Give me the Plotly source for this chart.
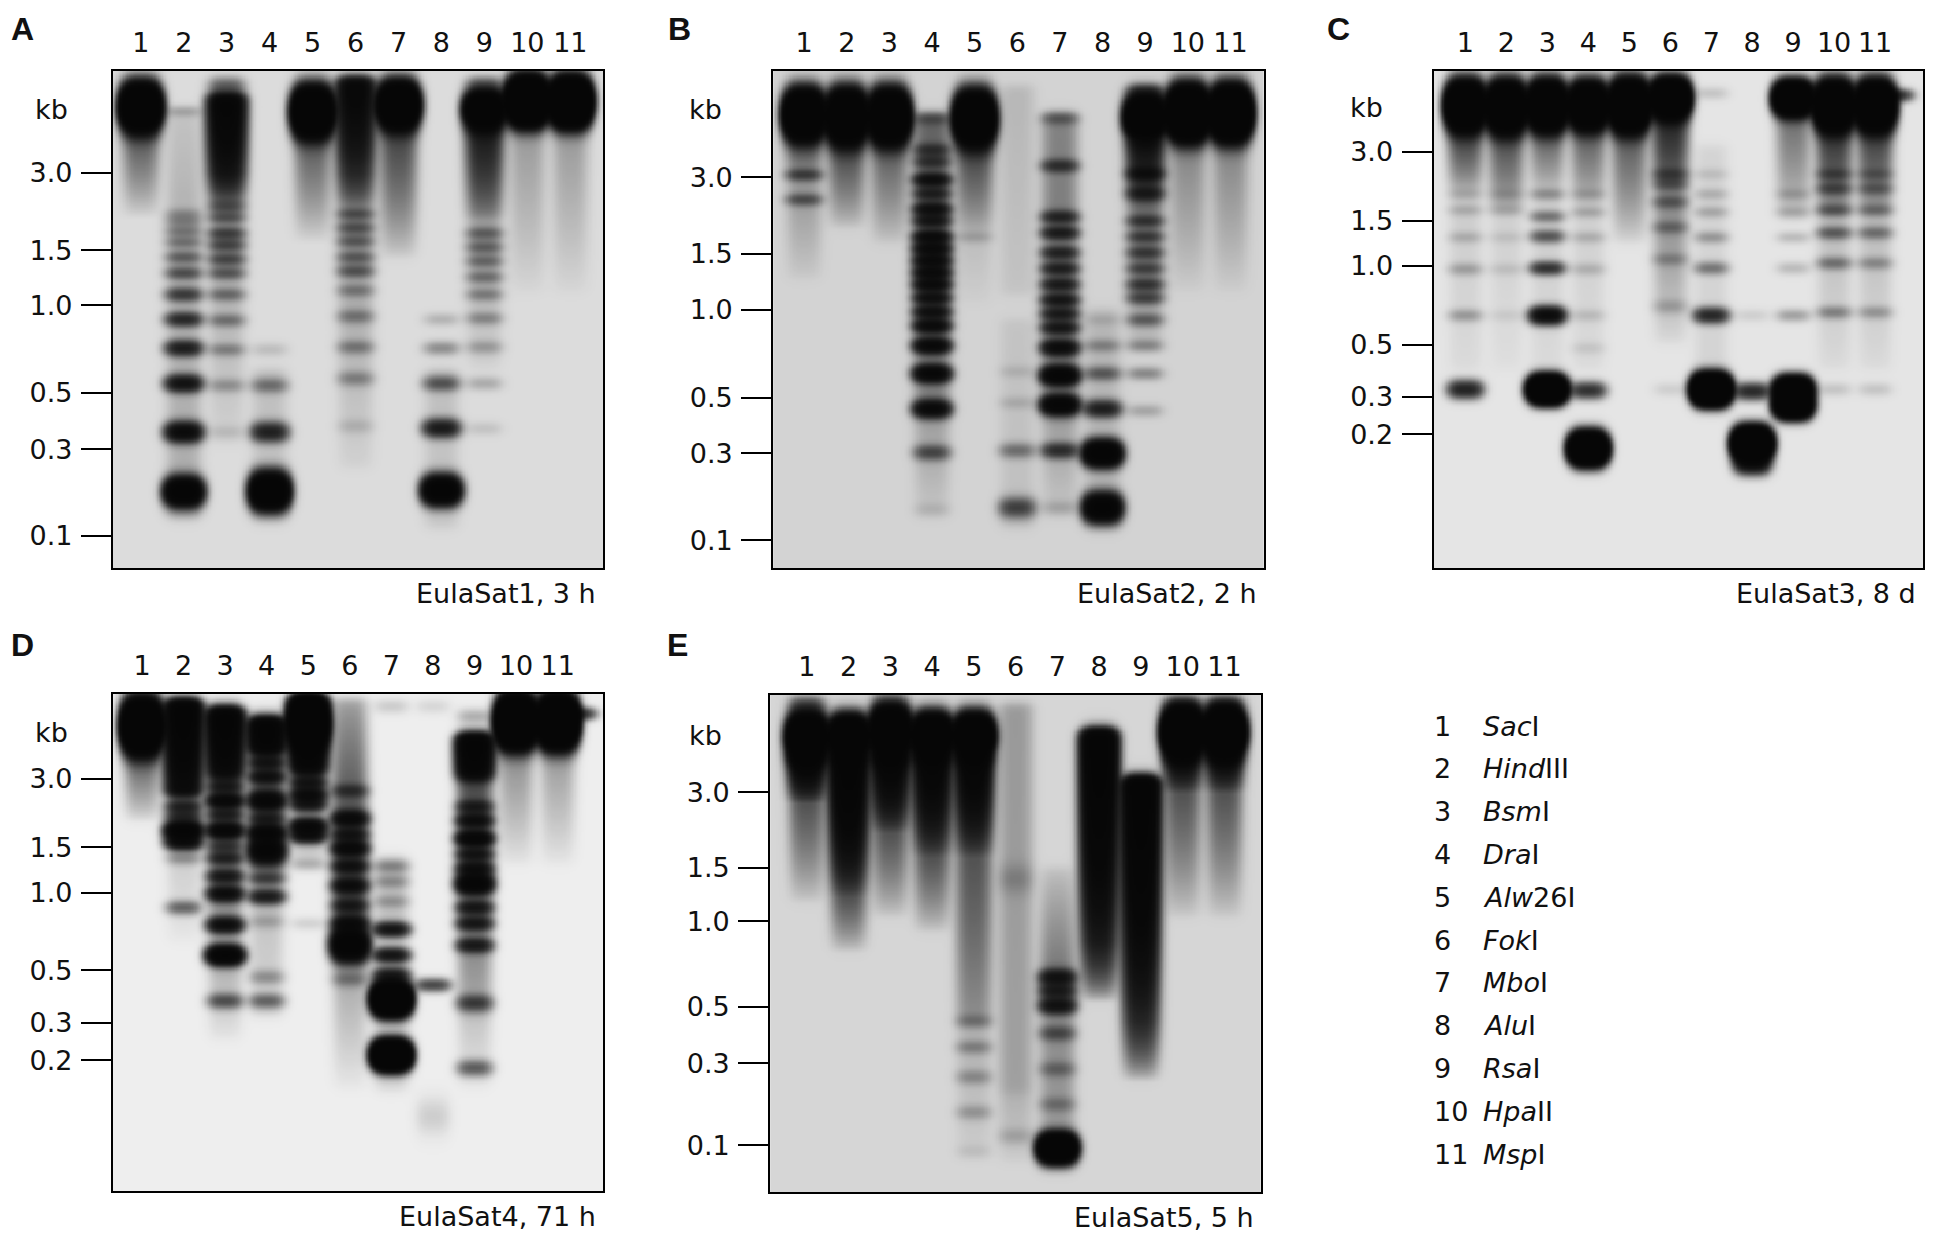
import numpy as np
import plotly.graph_objects as go

# the page body keeps its default 8 px margin, so the figure is drawn that much smaller
PAGE_W, PAGE_H = 1933, 1242
OFF = 8
W, H = PAGE_W - 2 * OFF, PAGE_H - 2 * OFF
FONT = 'DejaVu Sans'
INK = '#111111'

LANES = list(range(1, 12))

# restriction enzymes, lane key
ENZYME_NO = ['1', '2', '3', '4', '5', '6', '7', '8', '9', '10', '11']
ENZYME_ITALIC = ['Sac', 'Hind', 'Bsm', 'Dra', 'Alw', 'Fok', 'Mbo', 'Alu', 'Rsa', 'Hpa', 'Msp']
ENZYME_REST = ['I', 'III', 'I', 'I', '26I', 'I', 'I', 'I', 'I', 'II', 'I']

# bands: (lane, migration % of gel, signal, spread %)
# smears: (lane, from %, to %, signal at start, signal at end)

A_TITLE = 'EulaSat1, 3 h'
A_TICK_KB = ['3.0', '1.5', '1.0', '0.5', '0.3', '0.1']
A_TICK_POS = [20.5, 36.1, 47.1, 64.7, 76.1, 93.5]
A_BANDS = [
    (1, 7.3, 20, 2.5),
    (2, 8.1, 0.25, 0.4),
    (2, 28.8, 0.3, 0.5), (2, 30.3, 0.35, 0.5), (2, 32.3, 0.45, 0.5), (2, 34.5, 0.5, 0.5),
    (2, 37.5, 0.7, 0.6), (2, 40.7, 0.9, 0.6), (2, 45.0, 1.2, 0.7), (2, 50.0, 1.6, 0.7),
    (2, 55.8, 2.0, 0.8), (2, 62.9, 2.6, 0.9), (2, 72.7, 3.5, 1.1), (2, 84.7, 8, 1.6),
    (3, 3.0, 0.8, 1.0),
    (3, 27.2, 0.8, 0.6), (3, 29.5, 0.8, 0.6), (3, 32.7, 1.1, 0.6), (3, 35.1, 1.0, 0.6),
    (3, 37.9, 1.0, 0.6), (3, 40.7, 0.8, 0.6), (3, 45.0, 0.6, 0.6), (3, 50.2, 0.55, 0.6),
    (3, 56.1, 0.45, 0.6), (3, 63.3, 0.35, 0.7), (3, 72.7, 0.12, 0.7),
    (4, 56.1, 0.15, 0.7), (4, 63.3, 0.6, 0.8), (4, 72.7, 2.0, 1.1), (4, 84.6, 12, 2.0),
    (5, 8.2, 20, 2.6),
    (6, 28.8, 0.8, 0.6), (6, 31.6, 0.8, 0.6), (6, 34.3, 0.7, 0.6), (6, 37.5, 0.7, 0.6),
    (6, 40.3, 0.8, 0.6), (6, 44.2, 0.45, 0.6), (6, 49.4, 0.5, 0.7), (6, 55.6, 0.5, 0.7),
    (6, 61.9, 0.45, 0.8), (6, 71.5, 0.15, 0.8),
    (7, 6.9, 20, 2.4),
    (8, 50.0, 0.2, 0.6), (8, 55.8, 0.45, 0.7), (8, 62.9, 0.9, 0.8), (8, 71.9, 2.2, 1.0),
    (8, 84.4, 8, 1.6),
    (9, 2.6, 0.6, 0.8), (9, 7.8, 15, 2.0),
    (9, 32.7, 0.65, 0.6), (9, 35.5, 0.65, 0.6), (9, 38.3, 0.6, 0.6), (9, 41.5, 0.55, 0.6),
    (9, 45.0, 0.45, 0.6), (9, 49.8, 0.4, 0.6), (9, 55.6, 0.3, 0.7), (9, 62.9, 0.25, 0.7),
    (9, 72.0, 0.12, 0.7),
    (10, 6.0, 30, 2.4),
    (11, 6.2, 30, 2.4),
]
A_SMEARS = [
    (1, 12, 30, 1.0, 0.0),
    (2, 8, 25, 0.12, 0.2), (2, 25, 90, 0.2, 0.25),
    (3, 5, 20, 6, 3), (3, 20, 27, 3, 0.6), (3, 27, 75, 0.3, 0.05),
    (4, 60, 90, 0.15, 0.1),
    (5, 12, 35, 1.0, 0.0),
    (6, 1.7, 20, 5, 2), (6, 20, 28, 2, 0.5), (6, 28, 80, 0.35, 0.05),
    (7, 11, 38, 1.3, 0.05),
    (8, 60, 92, 0.15, 0.1),
    (9, 11, 30, 2.5, 0.5), (9, 30, 60, 0.3, 0.05),
    (10, 10, 45, 0.4, 0.02),
    (11, 10, 45, 0.4, 0.02),
]

B_TITLE = 'EulaSat2, 2 h'
B_TICK_KB = ['3.0', '1.5', '1.0', '0.5', '0.3', '0.1']
B_TICK_POS = [21.4, 36.8, 48.0, 65.7, 76.9, 94.4]
B_BANDS = [
    (1, 8.8, 20, 2.6), (1, 20.9, 1.0, 0.5), (1, 25.9, 0.8, 0.5),
    (2, 9.2, 20, 2.8),
    (3, 9.2, 20, 2.8),
    (4, 9.5, 0.6, 0.6), (4, 15.9, 1.0, 0.6), (4, 18.3, 1.0, 0.6), (4, 21.9, 2.5, 0.6),
    (4, 24.7, 1.5, 0.6), (4, 27.8, 2.5, 0.6), (4, 30.2, 2.0, 0.6), (4, 33.4, 3, 0.6),
    (4, 35.8, 3, 0.6), (4, 38.2, 3, 0.6), (4, 40.6, 3, 0.6), (4, 43.0, 3, 0.6),
    (4, 45.7, 2.5, 0.6), (4, 48.5, 2.5, 0.6), (4, 51.3, 3, 0.7), (4, 55.3, 3.5, 0.8),
    (4, 60.9, 4, 0.9), (4, 68.0, 3.5, 0.9), (4, 76.8, 1.0, 0.8), (4, 88.3, 0.12, 0.8),
    (5, 9.6, 20, 2.8), (5, 33.4, 0.2, 0.5),
    (6, 60.5, 0.12, 0.6), (6, 66.8, 0.15, 0.6), (6, 76.4, 0.6, 0.8), (6, 87.9, 1.2, 1.2),
    (7, 9.5, 0.6, 0.6), (7, 19.1, 1.2, 0.6), (7, 29.4, 1.5, 0.6), (7, 32.6, 1.8, 0.6),
    (7, 36.6, 1.5, 0.6), (7, 39.8, 1.6, 0.6), (7, 43.0, 1.8, 0.6), (7, 46.1, 2.0, 0.6),
    (7, 48.9, 1.8, 0.6), (7, 51.7, 2.0, 0.6), (7, 55.7, 3.0, 0.8), (7, 61.3, 5, 1.0),
    (7, 67.2, 5, 1.0), (7, 76.4, 1.5, 0.8), (7, 87.9, 0.2, 0.8),
    (8, 50.1, 0.12, 0.5), (8, 55.3, 0.4, 0.6), (8, 60.9, 0.8, 0.7), (8, 68.0, 2.0, 0.9),
    (8, 77.0, 8, 1.4), (8, 87.9, 7, 1.6),
    (9, 4.0, 0.8, 0.6), (9, 9.3, 18, 2.3), (9, 20.7, 1.5, 0.6), (9, 24.7, 1.2, 0.6),
    (9, 30.2, 1.0, 0.5), (9, 33.4, 0.9, 0.5), (9, 36.6, 1.0, 0.6), (9, 39.8, 0.9, 0.6),
    (9, 43.0, 1.2, 0.6), (9, 45.7, 1.0, 0.6), (9, 50.1, 0.7, 0.6), (9, 55.3, 0.45, 0.6),
    (9, 60.9, 0.45, 0.6), (9, 68.4, 0.25, 0.6),
    (10, 8.5, 28, 2.7),
    (11, 8.5, 28, 2.7),
]
B_SMEARS = [
    (1, 13, 20, 1.0, 0.5), (1, 20, 42, 0.4, 0.05),
    (2, 14, 32, 1.2, 0.05),
    (3, 14, 35, 0.9, 0.05),
    (4, 9, 70, 0.8, 0.5), (4, 70, 90, 0.3, 0.05),
    (5, 15, 33, 1.2, 0.15), (5, 33, 47, 0.12, 0.02),
    (6, 3, 45, 0.15, 0.08), (6, 50, 92, 0.08, 0.1),
    (7, 8.8, 70, 0.5, 0.6), (7, 70, 90, 0.3, 0.05),
    (8, 48, 92, 0.15, 0.15),
    (9, 14, 27, 3.0, 1.0), (9, 27, 55, 0.7, 0.1),
    (10, 14, 45, 0.5, 0.02),
    (11, 14, 45, 0.5, 0.02),
]

C_TITLE = 'EulaSat3, 8 d'
C_TICK_KB = ['3.0', '1.5', '1.0', '0.5', '0.3', '0.2']
C_TICK_POS = [16.3, 30.1, 39.2, 55.1, 65.5, 73.1]
C_BANDS = [
    (1, 7.0, 22, 2.5), (1, 24.8, 0.2, 0.5), (1, 28.0, 0.2, 0.5), (1, 33.5, 0.2, 0.5),
    (1, 39.9, 0.3, 0.6), (1, 49.2, 0.35, 0.6), (1, 64.1, 2.0, 1.0),
    (2, 7.3, 22, 2.6), (2, 24.8, 0.15, 0.5), (2, 28.0, 0.15, 0.5), (2, 33.5, 0.1, 0.5),
    (2, 39.9, 0.12, 0.6), (2, 49.2, 0.08, 0.6),
    (3, 7.0, 22, 2.5), (3, 24.8, 0.4, 0.5), (3, 29.3, 0.6, 0.5), (3, 33.3, 0.9, 0.6),
    (3, 39.7, 1.5, 0.6), (3, 49.2, 3.5, 0.9), (3, 64.1, 20, 1.35),
    (4, 7.0, 20, 2.4), (4, 24.8, 0.2, 0.5), (4, 28.4, 0.25, 0.5), (4, 33.5, 0.2, 0.5),
    (4, 39.9, 0.2, 0.6), (4, 49.2, 0.15, 0.6), (4, 55.8, 0.1, 0.6), (4, 64.3, 1.6, 0.9),
    (4, 76.0, 20, 1.65),
    (5, 7.0, 25, 2.6),
    (6, 5.5, 22, 2.0), (6, 20.8, 0.7, 0.6), (6, 22.8, 0.6, 0.6), (6, 26.4, 0.6, 0.6),
    (6, 31.5, 0.5, 0.6), (6, 37.9, 0.35, 0.6), (6, 47.4, 0.25, 0.8), (6, 64.1, 0.1, 0.7),
    (7, 4.5, 0.15, 0.6), (7, 20.8, 0.12, 0.5), (7, 24.8, 0.2, 0.5), (7, 28.4, 0.25, 0.5),
    (7, 33.5, 0.35, 0.5), (7, 39.7, 0.6, 0.6), (7, 49.2, 1.8, 0.8), (7, 64.1, 25, 1.5),
    (8, 49.2, 0.1, 0.6), (8, 64.5, 1.8, 0.9), (8, 75.0, 25, 1.6), (8, 79.0, 3, 1.2),
    (9, 5.5, 20, 1.7), (9, 24.8, 0.2, 0.5), (9, 28.4, 0.2, 0.5), (9, 33.5, 0.2, 0.5),
    (9, 39.7, 0.2, 0.6), (9, 49.2, 0.35, 0.6), (9, 64.2, 15, 1.3), (9, 67.3, 15, 1.3),
    (10, 7.0, 22, 2.5), (10, 20.8, 0.6, 0.5), (10, 23.7, 0.7, 0.5), (10, 28.0, 0.7, 0.5),
    (10, 32.6, 0.8, 0.6), (10, 38.7, 0.6, 0.6), (10, 48.6, 0.5, 0.6), (10, 64.1, 0.15, 0.7),
    (11, 7.0, 22, 2.5), (11.5, 4.9, 1.5, 0.5), (11, 20.8, 0.4, 0.5), (11, 23.7, 0.5, 0.5),
    (11, 28.0, 0.5, 0.5), (11, 32.6, 0.6, 0.6), (11, 38.7, 0.4, 0.6), (11, 48.6, 0.35, 0.6),
    (11, 64.1, 0.15, 0.7),
]
C_SMEARS = [
    (1, 11, 25, 1.5, 0.15), (1, 25, 60, 0.12, 0.05),
    (2, 12, 30, 1.2, 0.1), (2, 30, 60, 0.1, 0.03),
    (3, 11, 25, 1.0, 0.1), (3, 25, 60, 0.12, 0.05),
    (4, 11, 28, 1.0, 0.1), (4, 28, 60, 0.1, 0.05),
    (5, 12, 35, 1.0, 0.05),
    (6, 9, 22, 2.0, 0.8), (6, 22, 55, 0.6, 0.05),
    (7, 15, 60, 0.08, 0.08),
    (9, 8, 30, 0.8, 0.1),
    (10, 11, 30, 1.6, 0.3), (10, 30, 60, 0.2, 0.05),
    (11, 11, 30, 1.4, 0.25), (11, 30, 60, 0.2, 0.05),
]

D_TITLE = 'EulaSat4, 71 h'
D_TICK_KB = ['3.0', '1.5', '1.0', '0.5', '0.3', '0.2']
D_TICK_POS = [17.1, 30.8, 40.0, 55.6, 66.2, 73.7]
D_BANDS = [
    (1, 6.4, 25, 2.8),
    (2, 19.5, 2.0, 0.6), (2, 22.7, 1.5, 0.6), (2, 24.7, 1.2, 0.5), (2, 27.5, 6, 0.9),
    (2, 29.9, 3, 0.7), (2, 33.1, 0.4, 0.6), (2, 43.0, 0.8, 0.7),
    (3, 18.7, 1.5, 0.6), (3, 21.5, 3.5, 0.7), (3, 24.3, 1.5, 0.6), (3, 27.5, 4, 0.8),
    (3, 30.7, 1.0, 0.6), (3, 33.1, 1.5, 0.6), (3, 36.7, 2.0, 0.7), (3, 40.2, 3.0, 0.8),
    (3, 46.5, 3.0, 0.8), (3, 52.6, 6, 1.0), (3, 61.8, 1.0, 0.8),
    (4, 13.9, 1.5, 0.6), (4, 16.7, 2.0, 0.6), (4, 21.5, 4, 1.0), (4, 25.1, 1.5, 0.6),
    (4, 27.9, 4, 0.8), (4, 31.5, 5, 1.6), (4, 37.1, 1.0, 0.6), (4, 40.8, 2.0, 0.7),
    (4, 45.8, 0.25, 0.7), (4, 57.0, 0.4, 0.8), (4, 61.8, 0.8, 0.8),
    (5, 6.0, 15, 2.5), (5, 17.9, 2.0, 0.6), (5, 20.3, 3.0, 0.7), (5, 22.3, 2.0, 0.6),
    (5, 26.7, 4, 0.8), (5, 28.7, 2.5, 0.6), (5, 34.3, 0.25, 0.6), (5, 46.2, 0.12, 0.6),
    (6, 19.5, 1.0, 0.6), (6, 25.1, 3.0, 0.8), (6, 28.3, 1.8, 0.6), (6, 31.1, 3.0, 0.8),
    (6, 34.7, 2.0, 0.7), (6, 38.6, 2.5, 0.8), (6, 42.6, 1.5, 0.7), (6, 46.2, 2.5, 0.8),
    (6, 50.6, 8, 1.8), (6, 57.4, 0.5, 0.8),
    (7, 2.5, 0.15, 0.8), (7, 34.7, 0.4, 0.6), (7, 37.8, 0.35, 0.6), (7, 41.8, 0.3, 0.6),
    (7, 47.4, 2.5, 0.7), (7, 52.6, 2.5, 0.7), (7, 56.6, 2.0, 0.8), (7, 61.4, 20, 1.7),
    (7, 72.7, 20, 1.5),
    (8, 2.5, 0.1, 0.8), (8, 58.6, 1.2, 0.6), (8, 85.0, 0.15, 2.5),
    (9, 4.5, 0.3, 0.8), (9, 22.7, 1.5, 0.6), (9, 25.5, 2.5, 0.7), (9, 29.1, 4, 0.8),
    (9, 32.3, 2.0, 0.6), (9, 35.1, 2.5, 0.7), (9, 38.2, 5, 1.1), (9, 43.0, 2.0, 0.7),
    (9, 46.2, 2.0, 0.7), (9, 50.6, 2.0, 0.7), (9, 62.2, 1.2, 0.9), (9, 75.3, 0.9, 0.9),
    (10, 5.5, 30, 2.6),
    (11, 5.5, 30, 2.6), (11.5, 4.0, 1.5, 0.5),
]
D_SMEARS = [
    (1, 11, 26, 1.0, 0.05),
    (2, 1.6, 18.7, 8, 4), (2, 18, 33, 1.0, 0.15), (2, 33, 50, 0.15, 0.03),
    (3, 3.2, 17, 8, 4), (3, 17, 55, 1.0, 0.3), (3, 55, 70, 0.3, 0.03),
    (4, 5.2, 11.6, 8, 6), (4, 11, 45, 1.5, 0.2), (4, 45, 65, 0.2, 0.1),
    (5, 1.0, 16, 10, 5), (5, 16, 35, 0.8, 0.05),
    (6, 1, 27, 0.4, 1.2), (6, 27, 50, 1.2, 1.2), (6, 53, 80, 0.4, 0.02),
    (7, 33, 80, 0.25, 0.1),
    (9, 8.5, 17, 8, 5), (9, 17, 65, 1.2, 0.3), (9, 65, 80, 0.2, 0.02),
    (10, 9, 35, 0.6, 0.02),
    (11, 9, 35, 0.5, 0.02),
]

E_TITLE = 'EulaSat5, 5 h'
E_TICK_KB = ['3.0', '1.5', '1.0', '0.5', '0.3', '0.1']
E_TICK_POS = [19.6, 34.8, 45.5, 62.7, 74.1, 90.6]
E_BANDS = [
    (1, 2.0, 0.8, 1.0), (1, 8.5, 20, 2.5),
    (2, 8.5, 20, 2.2),
    (3, 7.5, 20, 2.8),
    (4, 8.3, 20, 2.3),
    (5, 8.3, 20, 2.3), (5, 65.7, 0.4, 0.7), (5, 70.9, 0.4, 0.7), (5, 76.9, 0.35, 0.8),
    (5, 84.0, 0.3, 0.8), (5, 92.0, 0.1, 0.8),
    (6, 37.0, 0.25, 2.0), (6, 88.8, 0.2, 1.0),
    (7, 56.9, 2.5, 0.9), (7, 59.6, 1.8, 0.7), (7, 62.5, 2.5, 0.9), (7, 68.1, 0.8, 0.8),
    (7, 75.3, 0.5, 0.8), (7, 82.4, 0.4, 0.8), (7, 91.2, 15, 1.5),
    (9, 17.5, 0.8, 0.8),
    (10, 2.0, 0.8, 0.8), (10, 7.5, 28, 2.5),
    (11, 2.0, 0.8, 0.8), (11, 7.5, 28, 2.5),
]
E_SMEARS = [
    (1, 12, 22, 6, 1.0), (1, 22, 42, 1.0, 0.05),
    (2, 12, 41, 8, 1.0), (2, 41, 52, 1.0, 0.05),
    (3, 12, 28, 6, 1.0), (3, 28, 45, 1.0, 0.05),
    (4, 12, 33, 6, 1.0), (4, 33, 48, 1.0, 0.05),
    (5, 12, 33, 6, 1.0), (5, 33, 66, 1.0, 0.4), (5, 66, 92, 0.2, 0.05),
    (6, 1.8, 80, 0.35, 0.3), (6, 80, 94, 0.2, 0.05),
    (7, 34.6, 55, 0.1, 0.6), (7, 55, 95, 0.5, 0.3),
    (8, 7.4, 49, 8, 2.5), (8, 49, 62, 2.5, 0.05),
    (9, 17, 65, 8, 2.0), (9, 65, 78, 2.0, 0.05),
    (10, 12, 20, 4, 1.0), (10, 20, 45, 1.0, 0.05),
    (11, 12, 20, 4, 1.0), (11, 20, 45, 1.0, 0.05),
]

# panel frames in page pixels (left, top, right, bottom), lane axis range, film tone
PANELS = [
    dict(letter='A', title=A_TITLE, kb=A_TICK_KB, pos=A_TICK_POS, bands=A_BANDS, smears=A_SMEARS,
         box=(113, 71, 604, 568), xr=(0.35, 11.77), bg='#dcdcdc', let_xy=(23, 9), kb_xy=(52, 109)),
    dict(letter='B', title=B_TITLE, kb=B_TICK_KB, pos=B_TICK_POS, bands=B_BANDS, smears=B_SMEARS,
         box=(774, 71, 1265, 568), xr=(0.275, 11.78), bg='#d3d3d3', let_xy=(680, 9), kb_xy=(706, 109)),
    dict(letter='C', title=C_TITLE, kb=C_TICK_KB, pos=C_TICK_POS, bands=C_BANDS, smears=C_SMEARS,
         box=(1435, 71, 1925, 568), xr=(0.22, 12.17), bg='#e5e5e5', let_xy=(1340, 9), kb_xy=(1368, 108)),
    dict(letter='D', title=D_TITLE, kb=D_TICK_KB, pos=D_TICK_POS, bands=D_BANDS, smears=D_SMEARS,
         box=(113, 694, 604, 1191), xr=(0.30, 12.10), bg='#eeeeee', let_xy=(23, 625), kb_xy=(52, 732)),
    dict(letter='E', title=E_TITLE, kb=E_TICK_KB, pos=E_TICK_POS, bands=E_BANDS, smears=E_SMEARS,
         box=(771, 695, 1262, 1192), xr=(0.12, 11.87), bg='#d6d6d6', let_xy=(678, 625), kb_xy=(706, 735)),
]

LANE_HALF = 0.41
LANE_EDGE = 3
MIN_BLUR = 0.7


def px_x(px):
    return (px - OFF) / W


def px_y(py):
    return 1 - (py - OFF) / H


def lane_profile(x, lane):
    return np.exp(-np.abs((x - lane) / LANE_HALF) ** LANE_EDGE)


def film(bands, smears, x, y):
    z = np.zeros((len(y), len(x)))
    for lane, pos, amt, sd in bands:
        sd = np.hypot(sd, MIN_BLUR)
        z += np.outer(amt * np.exp(-0.5 * ((y - pos) / sd) ** 2), lane_profile(x, lane))
    for lane, top, bot, a0, a1 in smears:
        t = np.clip((y - top) / (bot - top), 0, 1)
        edge = 1 / (1 + np.exp(-(y - top) / 0.6)) / (1 + np.exp((y - bot) / 0.6))
        z += np.outer((a0 + (a1 - a0) * t) * edge, lane_profile(x, lane))
    return np.round(255 * (1 - np.exp(-z))).astype(np.uint8)


def note(px, py, text, size=27, family=FONT, xanchor='center', yanchor='middle'):
    return dict(
        x=px_x(px), y=px_y(py), xref='paper', yref='paper',
        xanchor=xanchor, yanchor=yanchor, text=text, showarrow=False,
        font=dict(family=family, size=size, color=INK),
    )


fig = go.Figure()
layout = dict(
    width=W, height=H, margin=dict(l=0, r=0, t=0, b=0),
    paper_bgcolor='white', plot_bgcolor='white',
    font=dict(family=FONT, size=27, color=INK),
    showlegend=False,
)
annotations = []

for i, p in enumerate(PANELS):
    n = '' if i == 0 else str(i + 1)
    left, top, right, bottom = p['box']
    x = np.linspace(p['xr'][0], p['xr'][1], 360)
    y = np.linspace(0, 100, 420)
    fig.add_trace(go.Heatmap(
        x=x, y=y, z=film(p['bands'], p['smears'], x, y),
        zmin=0, zmax=255, colorscale=[[0, p['bg']], [1, '#060606']],
        showscale=False, hoverinfo='skip',
        xaxis='x' + n, yaxis='y' + n,
    ))
    layout['xaxis' + n] = dict(
        domain=[px_x(left), px_x(right)], range=list(p['xr']), anchor='y' + n,
        side='top', tickvals=LANES, ticktext=[str(v) for v in LANES], ticks='',
        ticklabelstandoff=6, tickfont=dict(size=27, color=INK),
        showgrid=False, zeroline=False,
        showline=True, mirror=True, linecolor='black', linewidth=2,
    )
    layout['yaxis' + n] = dict(
        domain=[px_y(bottom), px_y(top)], range=[100, 0], anchor='x' + n,
        tickvals=p['pos'], ticktext=p['kb'], ticks='outside', ticklen=30,
        tickwidth=2, tickcolor='black', ticklabelstandoff=3,
        tickfont=dict(size=27, color=INK),
        showgrid=False, zeroline=False,
        showline=True, mirror=True, linecolor='black', linewidth=2,
    )
    # panel letter hangs from its top edge so it stays inside the page
    annotations.append(note(p['let_xy'][0], p['let_xy'][1], '<b>%s</b>' % p['letter'],
                            size=32, family='Liberation Sans', yanchor='top'))
    annotations.append(note(p['kb_xy'][0], p['kb_xy'][1], 'kb'))
    annotations.append(note(right - 5, bottom + 25, p['title'], xanchor='right'))

# lane key
for k in range(len(ENZYME_NO)):
    yy = 726 + 42.8 * k
    annotations.append(note(1433, yy, ENZYME_NO[k], xanchor='left'))
    annotations.append(note(1483, yy, '<i>%s</i>%s' % (ENZYME_ITALIC[k], ENZYME_REST[k]),
                            xanchor='left'))

layout['annotations'] = annotations
fig.update_layout(**layout)
fig.write_html('out.html')
